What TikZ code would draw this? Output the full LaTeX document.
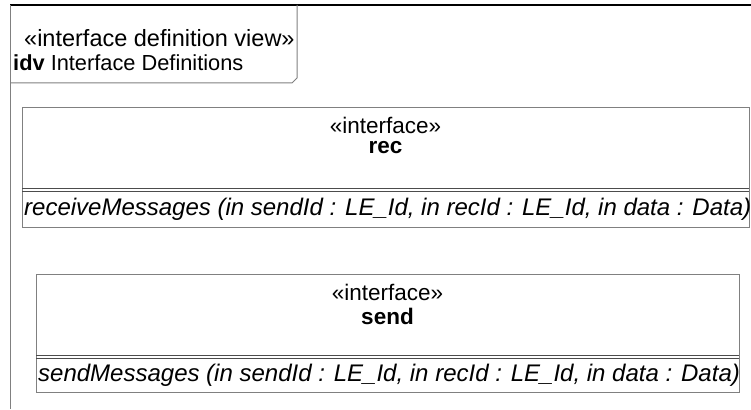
\documentclass[tikz,border=0pt]{standalone}
\usepackage{fontspec}
\setmainfont{Liberation Sans}
\begin{document}
\begin{tikzpicture}[x=1pt,y=-1pt,
  framegray/.style={draw=black!50,line width=1pt},
  ifbox/.style={draw=black!50,line width=1pt,rectangle,inner sep=0pt,anchor=north west},
  sepline/.style={draw=black!70,line width=0.9pt},
  stereo/.style={font=\fontsize{22.5}{27}\selectfont,inner sep=0pt},
  ifname/.style={font=\fontsize{22.5}{27}\selectfont\bfseries,inner sep=0pt},
  optext/.style={font=\fontsize{24}{28}\selectfont\itshape,inner sep=0pt,anchor=west},
  tabtext/.style={font=\fontsize{23.5}{27}\selectfont,inner sep=0pt,anchor=west},
  tabname/.style={font=\fontsize{21.8}{26}\selectfont,inner sep=0pt,anchor=west}]
\useasboundingbox (0,0) rectangle (751,409);
% diagram frame and its name tab
\draw[black,line width=1.2pt] (10,5) -- (751,5);
\draw[framegray] (10,5) -- (10,409);
\draw[framegray] (10,83) -- (292,83) -- (297,78) -- (297,5);
\node[tabtext] (tabstereo) at (24,38) {«interface definition view»};
\node[tabname] (tabname) at (13,63) {\textbf{idv} Interface Definitions};
% interface rec
\node[ifbox,minimum width=727pt,minimum height=120pt] (recbox) at (22,107) {};
\draw[sepline] (22,188) -- (749,188);
\draw[sepline] (22,191) -- (749,191);
\node[stereo] (recstereo) at (385.5,125) {«interface»};
\node[ifname] (recname) at (385.5,148) {rec};
\node[optext] (recop) at (24,209) {receiveMessages (in sendId : LE\_Id, in recId : LE\_Id, in data : Data)};
% interface send
\node[ifbox,minimum width=703pt,minimum height=118pt] (sendbox) at (36,274) {};
\draw[sepline] (36,355) -- (739,355);
\draw[sepline] (36,358) -- (739,358);
\node[stereo] (sendstereo) at (387.5,292) {«interface»};
\node[ifname] (sendname) at (387.5,316) {send};
\node[optext] (sendop) at (38,375) {sendMessages (in sendId : LE\_Id, in recId : LE\_Id, in data : Data)};
\end{tikzpicture}
\end{document}
